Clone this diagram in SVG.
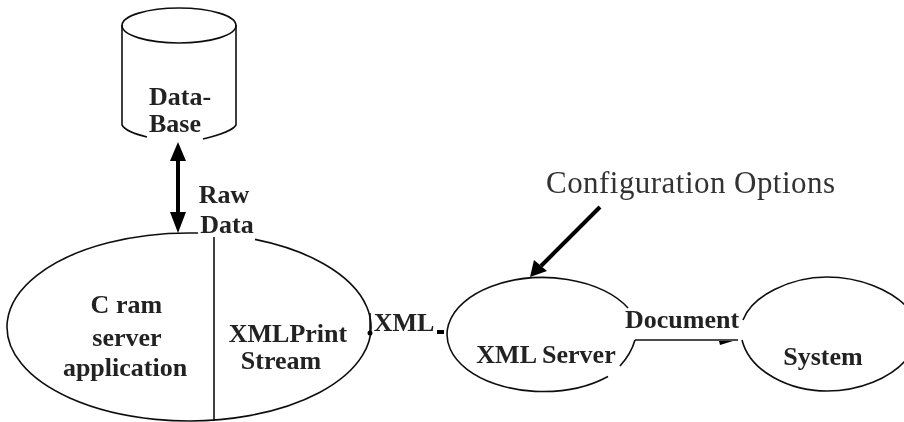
<svg xmlns="http://www.w3.org/2000/svg" width="904" height="422" viewBox="0 0 904 422">
<style>
.o{fill:none;stroke:#111;stroke-width:1.6}
.b{font:bold 26px "Liberation Serif",serif;fill:#222;text-anchor:middle}
.t{font:31px "Liberation Serif",serif;fill:#333}
.h{fill:#000;stroke:none}
.w{fill:none;stroke:#000;stroke-width:4}
</style>
<defs><filter id="s" x="-5%" y="-5%" width="110%" height="110%"><feGaussianBlur stdDeviation="0.5"/></filter></defs>
<rect width="904" height="422" fill="#fff"/>
<g filter="url(#s)">
<g id="database">
<ellipse class="o" cx="179" cy="25.500" rx="57" ry="17.500"/>
<path class="o" d="M122 25V125Q126 132 147 137M236 25V125Q232 132 203 139"/>
<text class="b" x="180" y="105">Data-</text><text class="b" x="175" y="132">Base</text>
</g>
<g id="cram-app">
<path class="o" d="M198 233H189A182 94 0 1 0 255 239.400"/>
<path class="o" d="M214 237V421"/>
<text class="b" x="100" y="313">C</text>
<text class="b" x="139" y="313">ram</text>
<text class="b" x="127" y="346">server</text>
<text class="b" x="125" y="376">application</text>
<text class="b" x="288" y="342">XMLPrint</text>
<text class="b" x="281" y="369">Stream</text>
</g>
<g id="xml-server">
<path class="o" d="M628 308A96 57 0 1 0 608 376.500"/>
<path class="o" d="M620 366Q631 354 635 340"/>
<text class="b" x="546" y="363">XML Server</text>
</g>
<g id="system">
<path class="o" d="M743 320C752 296 790 277 827 277C860 277 890 290 906 306M742 340C750 372 790 391 827 391C860 391 890 378 906 360"/>
<text class="b" x="823" y="365">System</text>
</g>
<g id="connectors">
<path class="w" d="M178 155V220"/>
<path class="h" d="M178 142L186 161H170ZM178 233L170 212H186Z"/>
<path class="w" d="M600 207L541 266"/>
<path class="h" d="M530 277L534 260L547 271Z"/>
<path class="o" d="M370 313V333"/>
<circle class="h" cx="370" cy="333" r="2.500"/>
<rect class="h" x="437" y="330" width="7" height="4"/>
<path class="o" d="M635 340H738"/>
<path class="h" d="M719 341H733L720 345Z"/>
</g>
<g id="labels">
<text class="t" x="546" y="193" textLength="289">Configuration Options</text>
<text class="b" x="224" y="203">Raw</text>
<text class="b" x="227" y="233">Data</text>
<text class="b" x="404" y="331">XML</text>
<text class="b" x="682" y="328">Document</text>
</g>
</g>
</svg>
